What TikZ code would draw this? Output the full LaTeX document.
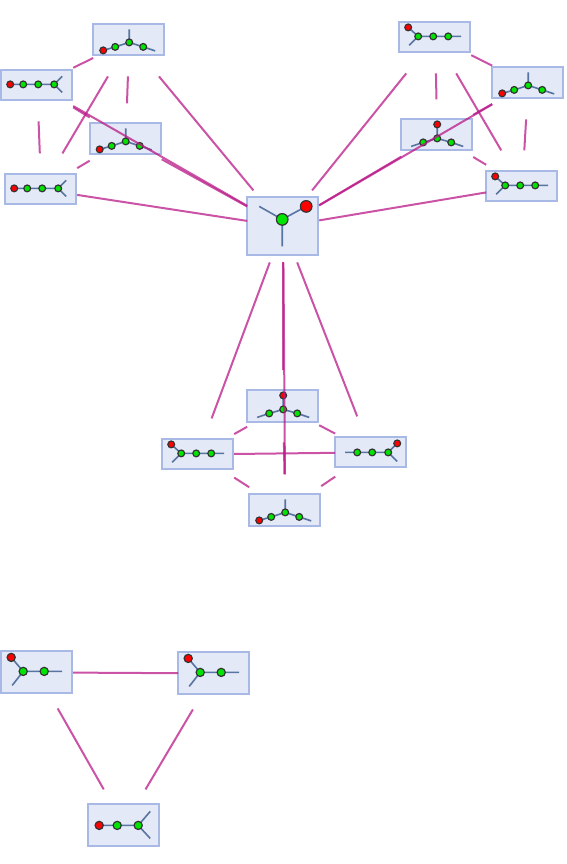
\documentclass[tikz,border=0pt]{standalone}
\usepackage{tikz}
\definecolor{SoftBox}{RGB}{227,233,247}
\definecolor{EdgeBox}{RGB}{168,185,230}
\definecolor{BondBlue}{RGB}{88,116,160}
\definecolor{LinkPink}{RGB}{185,25,135}
\tikzset{
  molbox/.style={draw=EdgeBox,fill=SoftBox,line width=2pt,minimum width=71pt,inner sep=0pt},
  reach/.style={minimum width=72pt,minimum height=72pt,inner sep=0pt,outer sep=0pt},
  link/.style={draw=LinkPink,line width=2pt,opacity=0.75},
  bond/.style={draw=BondBlue,line width=1.6pt},
  redatom/.style={fill=red,draw=black!80,line width=1.2pt},
  greenatom/.style={fill=green!90!black,draw=black!80,line width=1.2pt},
  pics/bent/.style={code={
    \draw[bond] (-26,10)--(-14,6.5)--(0,2)--(14,6.5)--(26,10.5) (0,2)--(0,-11);
    \path[redatom] (-26,10) circle (3.4pt);
    \foreach \p in {(-14,6.5),(0,2),(14,6.5)} \path[greenatom] \p circle (3.4pt);
  }},
  pics/updown/.style={code={
    \draw[bond] (-26,11)--(-14,7)--(0,3)--(14,7)--(26,11) (0,3)--(0,-11);
    \path[redatom] (0,-11) circle (3.4pt);
    \foreach \p in {(-14,7),(0,3),(14,7)} \path[greenatom] \p circle (3.4pt);
  }},
  pics/chain/.style={code={
    \draw[bond] (-27,-1)--(17,-1) (25,-9)--(17,-1)--(25,7);
    \path[redatom] (-27,-1) circle (3.4pt);
    \foreach \p in {(-14,-1),(1,-1),(17,-1)} \path[greenatom] \p circle (3.4pt);
  }},
  pics/hook/.style={code={
    \draw[bond] (-27,-10)--(-17,-1)--(26,-1) (-17,-1)--(-26,8);
    \path[redatom] (-27,-10) circle (3.4pt);
    \foreach \p in {(-17,-1),(-2,-1),(13,-1)} \path[greenatom] \p circle (3.4pt);
  }},
  pics/hookright/.style={code={
    \draw[bond] (26,-9)--(17,0)--(-26,0) (17,0)--(26,9);
    \path[redatom] (26,-9) circle (3.4pt);
    \foreach \p in {(17,0),(1,0),(-14,0)} \path[greenatom] \p circle (3.4pt);
  }},
  pics/wide/.style={code={
    \draw[bond] (-26,-15)--(-14,-1)--(25,-1) (-14,-1)--(-25,13);
    \path[redatom] (-26,-15) circle (4.1pt);
    \foreach \p in {(-14,-1),(7,-1)} \path[greenatom] \p circle (4.1pt);
  }},
  pics/fork/.style={code={
    \draw[bond] (-25,0)--(14,0) (26,-14)--(14,0)--(26,13);
    \path[redatom] (-25,0) circle (4.1pt);
    \foreach \p in {(-7,0),(14,0)} \path[greenatom] \p circle (4.1pt);
  }},
  pics/large/.style={code={
    \draw[bond] (23,-20)--(-1,-7)--(-24,-20) (-1,-7)--(-1,20);
    \path[redatom] (23,-20) circle (5.8pt);
    \path[greenatom] (-1,-7) circle (5.8pt);
  }},
}
\begin{document}
\begin{tikzpicture}[x=1pt,y=-1pt]
\useasboundingbox (0,0) rectangle (566,864);
\begin{scope}[xshift=-0.4pt,yshift=0.4pt]
% boxes with their molecules
\foreach \name/\x/\y/\h/\mol in {
  a/129/40/31/bent, b/37/85/30/chain, c/125.5/139/31/bent, d/41/189/30/chain,
  e/435/37/30/hook, f/528/83/31/bent, g/437/135/31/updown, h/522/186/30/hook,
  hub/283/226/58/large,
  i/283/406/32/updown, j/198/454/30/hook, k/371/452/30/hookright, l/285/510/32/bent,
  m/37/672/42/wide, n/214/673/42/wide, o/124/825/42/fork}{
  \node[molbox,minimum height=\h pt] (\name box) at (\x,\y) {};
  \node[reach] (\name) at ([shift={(0.6,0.8)}]\x,\y) {};
  \pic at ([shift={(0.6,0.8)}]\x,\y) {\mol};
}
% upper left
\foreach \u/\v in {a/b,a/c,a/d,a/hub,b/c,b/d,b/hub,c/d,c/hub,d/hub}
  \draw[link] (\u)--(\v);
% upper right
\foreach \u/\v in {e/f,e/g,e/h,e/hub,f/g,f/h,f/hub,g/h,g/hub,h/hub}
  \draw[link] (\u)--(\v);
% lower
\foreach \u/\v in {i/j,i/k,i/l,i/hub,j/k,j/l,j/hub,k/l,k/hub,l/hub}
  \draw[link] (\u)--(\v);
% bottom
\foreach \u/\v in {m/n,m/o,n/o}
  \draw[link] (\u)--(\v);
\end{scope}
\end{tikzpicture}
\end{document}
